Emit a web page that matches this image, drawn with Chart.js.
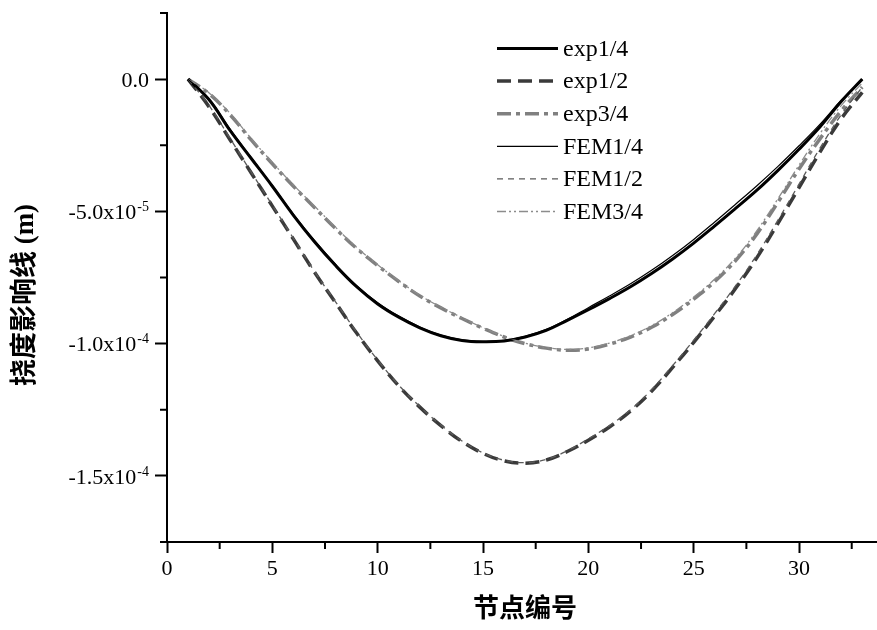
<!DOCTYPE html>
<html>
<head>
<meta charset="utf-8">
<title>挠度影响线</title>
<script src="https://cdn.jsdelivr.net/npm/chart.js@4.4.1/dist/chart.umd.min.js"></script>
<style>
    html, body { margin: 0; padding: 0; background: #fff; }
    #wrap { width: 877px; height: 630px; }
</style>
</head>
<body>
<div id="wrap"><canvas id="chart" width="877" height="630"></canvas></div>
<script>
(function() {
    'use strict';

    // Node numbers along the span
    const nodes = [1, 2, 3, 4, 5, 6, 7, 8, 9, 10, 11, 12, 13, 14, 15, 16, 17,
        18, 19, 20, 21, 22, 23, 24, 25, 26, 27, 28, 29, 30, 31, 32, 33];

    // Deflection influence lines, in units of 1e-5 m
    const exp14 = [0, -0.78, -1.95, -3.0, -4.05, -5.15, -6.15, -7.05, -7.85, -8.5, -9.0,
        -9.4, -9.7, -9.88, -9.93, -9.9, -9.75, -9.5, -9.12, -8.72, -8.3, -7.85,
        -7.35, -6.8, -6.2, -5.55, -4.88, -4.2, -3.45, -2.65, -1.8, -0.85, 0];
    const exp12 = [0, -1.05, -2.3, -3.55, -4.8, -6.05, -7.3, -8.45, -9.6, -10.65, -11.6,
        -12.4, -13.1, -13.7, -14.15, -14.43, -14.52, -14.4, -14.08, -13.65, -13.15, -12.55,
        -11.8, -10.9, -9.95, -8.95, -7.9, -6.75, -5.45, -4.1, -2.75, -1.5, -0.5];
    const exp34 = [0, -0.55, -1.35, -2.3, -3.2, -4.05, -4.85, -5.65, -6.4, -7.05, -7.65,
        -8.2, -8.65, -9.05, -9.42, -9.75, -10.0, -10.17, -10.25, -10.2, -10.02, -9.75,
        -9.38, -8.9, -8.32, -7.65, -6.85, -5.85, -4.65, -3.4, -2.25, -1.2, -0.3];
    const fem14 = [0, -0.75, -1.9, -2.97, -4.02, -5.1, -6.1, -7.0, -7.8, -8.45, -8.96,
        -9.37, -9.68, -9.86, -9.92, -9.88, -9.72, -9.46, -9.08, -8.64, -8.2, -7.74,
        -7.23, -6.67, -6.06, -5.4, -4.72, -4.03, -3.3, -2.52, -1.7, -0.8, 0];
    const fem12 = [0, -1.0, -2.25, -3.52, -4.77, -6.02, -7.27, -8.42, -9.56, -10.62, -11.57,
        -12.38, -13.08, -13.68, -14.13, -14.41, -14.5, -14.38, -14.05, -13.6, -13.1, -12.5,
        -11.74, -10.83, -9.87, -8.86, -7.8, -6.64, -5.33, -3.97, -2.6, -1.35, -0.3];
    const fem34 = [0, -0.52, -1.3, -2.25, -3.15, -4.0, -4.8, -5.6, -6.36, -7.02, -7.62,
        -8.17, -8.62, -9.02, -9.4, -9.73, -9.98, -10.15, -10.22, -10.16, -9.98, -9.7,
        -9.32, -8.83, -8.24, -7.56, -6.75, -5.73, -4.52, -3.25, -2.05, -1.0, -0.15];

    const seriesLabels = ['exp1/4', 'exp1/2', 'exp3/4', 'FEM1/4', 'FEM1/2', 'FEM3/4'];
    const seriesValues = [exp14, exp12, exp34, fem14, fem12, fem34];

    // Axis ticks (y in units of 1e-5)
    const xTickValues = [0, 2.5, 5, 7.5, 10, 12.5, 15, 17.5, 20, 22.5, 25, 27.5, 30, 32.5];
    const yTickValues = [2.5, 0, -2.5, -5, -7.5, -10, -12.5, -15, -17.5];
    const yLabelValues = [0, -5, -10, -15];
    const yLabelMantissa = ['0.0', '-5.0x10', '-1.0x10', '-1.5x10'];
    const yLabelExponent = ['', '-5', '-4', '-4'];

    // Line styles per series
    const styles = [
        { color: '#000000', width: 3, dash: [] },
        { color: '#3a3a3a', width: 3.5, dash: [14, 7] },
        { color: '#808080', width: 3.5, dash: [14, 5, 4, 5] },
        { color: '#000000', width: 1.2, dash: [] },
        { color: '#5a5a5a', width: 1.3, dash: [6, 5] },
        { color: '#8c8c8c', width: 1.3, dash: [9, 3, 2, 3, 2, 3] }
    ];

    const serif = '"Liberation Serif", "Times New Roman", serif';
    const titleFont = '"Liberation Serif", "Noto Sans CJK SC", serif';

    function isMajor(v) {
        return Math.abs(v / 5 - Math.round(v / 5)) < 1e-6;
    }

    const datasets = seriesLabels.map(function(label, i) {
        return {
            label: label,
            data: nodes.map(function(n, k) {
                return { x: n, y: seriesValues[i][k] };
            }),
            borderColor: styles[i].color,
            borderWidth: styles[i].width,
            borderDash: styles[i].dash,
            pointRadius: 0,
            fill: false,
            tension: 0.4,
            order: i < 3 ? 1 : 0
        };
    });

    // Minor ticks, y tick labels with exponents, axis titles and legend
    const decorations = {
        id: 'decorations',
        afterDraw: function(chart) {
            const ctx = chart.ctx;
            const xs = chart.scales.x;
            const ys = chart.scales.y;
            ctx.save();

            // minor ticks
            ctx.strokeStyle = '#000';
            ctx.lineWidth = 2;
            ctx.setLineDash([]);
            xTickValues.forEach(function(v) {
                if (isMajor(v)) return;
                const px = xs.getPixelForValue(v);
                ctx.beginPath();
                ctx.moveTo(px, xs.top);
                ctx.lineTo(px, xs.top + 7);
                ctx.stroke();
            });
            yTickValues.forEach(function(v) {
                if (isMajor(v)) return;
                const py = ys.getPixelForValue(v);
                ctx.beginPath();
                ctx.moveTo(ys.right, py);
                ctx.lineTo(ys.right - 7, py);
                ctx.stroke();
            });

            // y tick labels
            ctx.fillStyle = '#000';
            ctx.textBaseline = 'middle';
            yLabelValues.forEach(function(v, i) {
                const py = ys.getPixelForValue(v);
                const right = 149;
                ctx.font = '14px ' + serif;
                const expW = yLabelExponent[i] ? ctx.measureText(yLabelExponent[i]).width : 0;
                if (expW) {
                    ctx.textAlign = 'right';
                    ctx.fillText(yLabelExponent[i], right, py - 4);
                }
                ctx.font = '22px ' + serif;
                ctx.textAlign = 'right';
                ctx.fillText(yLabelMantissa[i], right - expW - (expW ? 1 : 0), py + 2);
            });

            // axis titles
            ctx.font = 'bold 26px ' + titleFont;
            ctx.textAlign = 'center';
            ctx.fillText('节点编号', 525, 610);
            ctx.save();
            ctx.translate(26, 295);
            ctx.rotate(-Math.PI / 2);
            ctx.font = 'bold 27px ' + titleFont;
            ctx.fillText('挠度影响线 (m)', 0, 0);
            ctx.restore();

            // legend
            ctx.font = '24px ' + serif;
            ctx.textAlign = 'left';
            chart.data.datasets.forEach(function(ds, i) {
                const y = 48.5 + i * 32.6;
                ctx.strokeStyle = ds.borderColor;
                ctx.lineWidth = ds.borderWidth;
                ctx.setLineDash(ds.borderDash);
                ctx.beginPath();
                ctx.moveTo(497, y);
                ctx.lineTo(558, y);
                ctx.stroke();
                ctx.setLineDash([]);
                ctx.fillStyle = '#000';
                ctx.fillText(ds.label, 563, y + 1);
            });

            ctx.restore();
        }
    };

    new Chart(document.getElementById('chart'), {
        type: 'line',
        data: { datasets: datasets },
        options: {
            responsive: false,
            animation: false,
            layout: { padding: { top: 13, right: 0, bottom: 0, left: 0 } },
            plugins: {
                legend: { display: false },
                tooltip: { enabled: false }
            },
            scales: {
                x: {
                    type: 'linear',
                    min: 0,
                    max: 33.7,
                    afterBuildTicks: function(scale) {
                        scale.ticks = xTickValues.map(function(v) { return { value: v }; });
                    },
                    afterFit: function(scale) { scale.height = 88; },
                    ticks: {
                        autoSkip: false,
                        maxRotation: 0,
                        padding: 3,
                        color: '#000',
                        font: { family: serif, size: 22 },
                        callback: function(v) { return isMajor(v) ? String(v) : ''; }
                    },
                    grid: {
                        drawOnChartArea: false,
                        tickLength: 11,
                        tickWidth: 2,
                        tickColor: function(c) {
                            return c.tick && isMajor(c.tick.value) ? '#000' : 'rgba(0,0,0,0)';
                        }
                    },
                    border: { color: '#000', width: 2 }
                },
                y: {
                    type: 'linear',
                    min: -17.5,
                    max: 2.5,
                    afterBuildTicks: function(scale) {
                        scale.ticks = yTickValues.map(function(v) { return { value: v }; });
                    },
                    afterFit: function(scale) { scale.width = 167; },
                    ticks: { display: false },
                    grid: {
                        drawOnChartArea: false,
                        tickLength: 12,
                        tickWidth: 2,
                        tickColor: function(c) {
                            return c.tick && isMajor(c.tick.value) ? '#000' : 'rgba(0,0,0,0)';
                        }
                    },
                    border: { color: '#000', width: 2 }
                }
            }
        },
        plugins: [decorations]
    });
})();
</script>
</body>
</html>
